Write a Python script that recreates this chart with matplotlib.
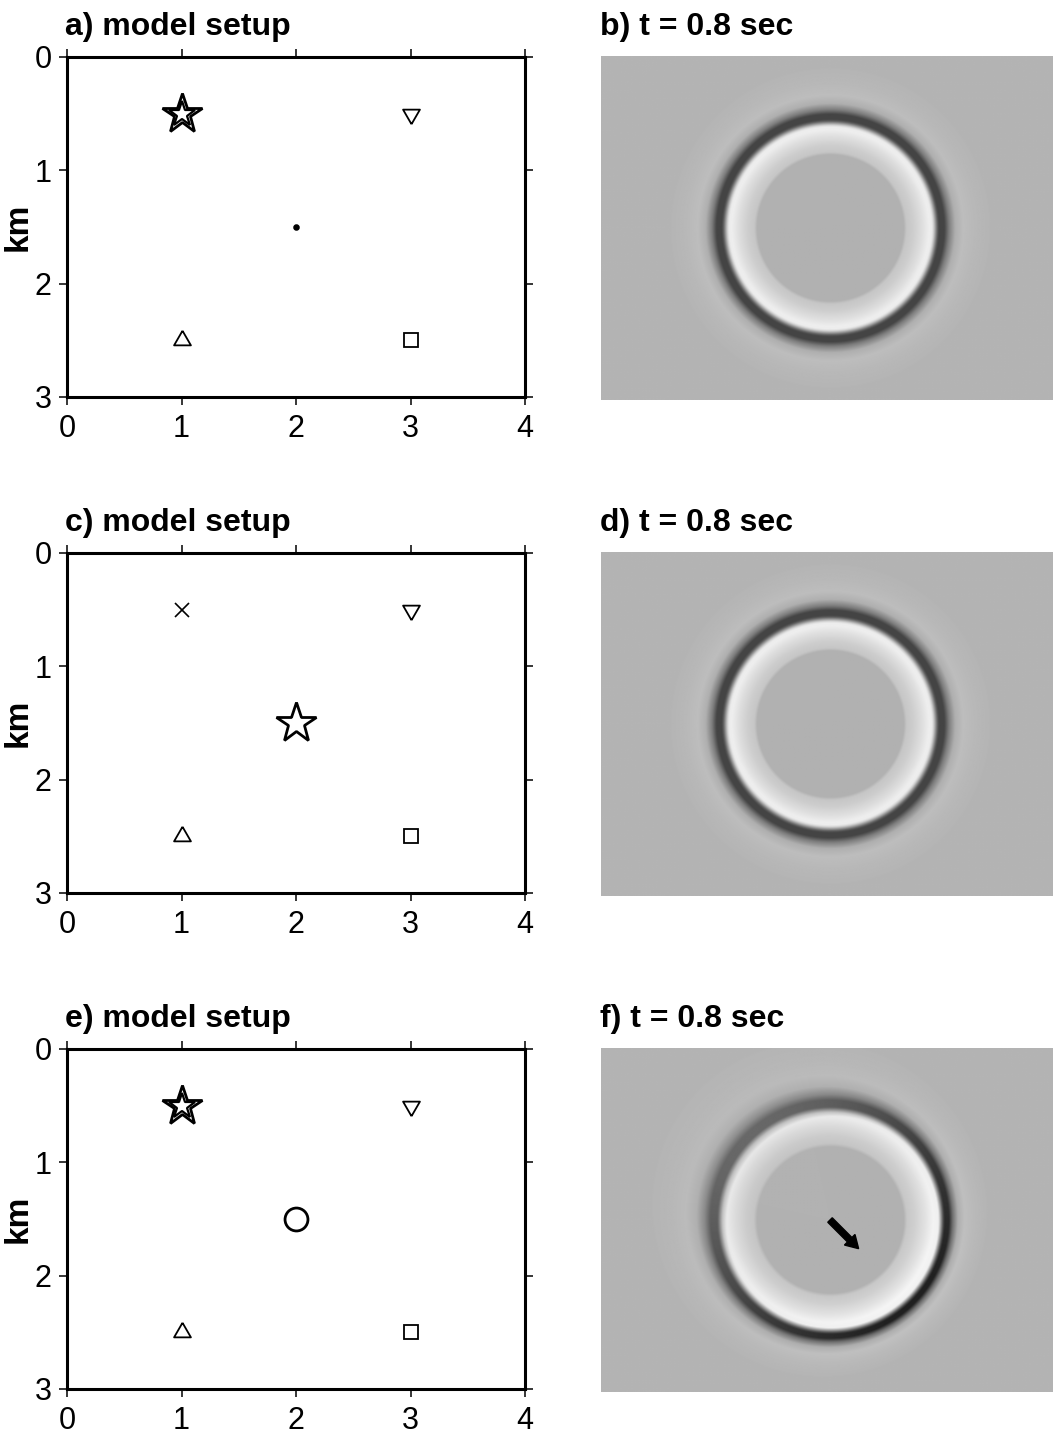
import numpy as np
import matplotlib
matplotlib.use("Agg")
from matplotlib import pyplot as plt

plt.rcParams['font.family'] = ['Liberation Sans', 'DejaVu Sans']

W, H, DPI = 1053, 1434, 100

titles_left = ['a) model setup', 'c) model setup', 'e) model setup']
titles_right = ['b) t = 0.8 sec', 'd) t = 0.8 sec', 'f) t = 0.8 sec']
x_ticks = [0, 1, 2, 3, 4]
y_ticks = [0, 1, 2, 3]

# receivers (same for every setup)
rec_x = [3, 1, 3]
rec_y = [0.5, 2.5, 2.5]
rec_marker = ['tri_dn', 'tri_up', 's']
rec_size = [14, 14, 9.7]

# source star per row, and whether it is drawn as a double star
star_x = [1, 2, 1]
star_y = [0.5, 1.5, 0.5]
star_double = [True, False, True]

# second point per row
pt_x = [2, 1, 2]
pt_y = [1.5, 0.5, 1.5]
pt_marker = ['o', 'x', 'o']
pt_size = [3.5, 10, 16.5]
pt_face = ['k', 'k', 'none']

# snapshot: ring centre and radial grey profile (grey levels 0-255)
ring_x, ring_y = 2.0, 1.5
bg = 180
light_r = [0.0, 0.64, 0.665, 0.72, 0.80, 0.86, 0.90, 0.935]
light_v = [-3, -3, 18, 25, 42, 58, 55, 0]
dark_r = [0.885, 0.92, 0.95, 0.995, 1.035, 1.09, 1.16, 1.26, 1.40]
dark_v = [0, -60, -112, -112, -55, -5, 9, 4, 0]

# polarisation arrow in panel f
arrow_x, arrow_y = 2.0, 1.5
arrow_dx, arrow_dy = 0.25, 0.25

TRI_DN = [(0, -1), (0.866, 0.5), (-0.866, 0.5), (0, -1)]
TRI_UP = [(0, 1), (0.866, -0.5), (-0.866, -0.5), (0, 1)]


def snapshot(aniso=False):
    x = np.linspace(0, 4, 461)
    y = np.linspace(0, 3, 346)
    X, Y = np.meshgrid(x, y)
    dx, dy = X - ring_x, Y - ring_y
    r = np.hypot(dx, dy)
    if not aniso:
        dev = np.interp(r, light_r, light_v) + np.interp(r, dark_r, dark_v)
    else:
        c = (dx * arrow_dx + dy * arrow_dy) / (np.maximum(r, 1e-6) * np.hypot(arrow_dx, arrow_dy))
        r_l = np.where(r < 0.64, r, 0.64 + (r - 0.64) * 0.86)
        r_d = 0.965 + (r - 1.01) * (1 + 0.3 * c)
        dev = (np.interp(r_l, light_r, light_v) * (1 + 0.12 * c)
               + np.interp(r_d, dark_r, dark_v) * (1 + 0.32 * c))
    return np.clip((bg + dev) / 255.0, 0, 1)


fig = plt.figure(figsize=(W / DPI, H / DPI), dpi=DPI)

row_top = [57, 553, 1049]
for i in range(3):
    top = row_top[i]
    # model setup
    ax = fig.add_axes([67 / W, 1 - (top + 340) / H, 458 / W, 340 / H])
    ax.set_xlim(0, 4)
    ax.set_ylim(3, 0)
    ax.set_xticks(x_ticks)
    ax.set_yticks(y_ticks)
    ax.tick_params(axis='both', direction='out', length=6, width=1.1, labelsize=22,
                   top=True, right=True)
    ax.tick_params(axis='x', pad=6)
    ax.tick_params(axis='y', pad=5)
    for s in ax.spines.values():
        s.set_linewidth(2.2)
    ax.set_ylabel('km', fontsize=24, fontweight='bold')
    ax.yaxis.set_label_coords(-0.072, 0.5)

    for xx, yy, m, ms in zip(rec_x, rec_y, rec_marker, rec_size):
        mk = TRI_DN if m == 'tri_dn' else TRI_UP if m == 'tri_up' else m
        ax.plot(xx, yy, marker=mk, ms=ms, mfc='white', mec='k', mew=1.3, ls='none')

    ax.plot(star_x[i], star_y[i], marker='*', ms=30, mfc='white', mec='k', mew=2.0, ls='none')
    if star_double[i]:
        ax.plot(star_x[i], star_y[i], marker='*', ms=19, mfc='none', mec='k', mew=1.6, ls='none')

    ax.plot(pt_x[i], pt_y[i], marker=pt_marker[i], ms=pt_size[i], mfc=pt_face[i],
            mec='k', mew=2.0 if pt_marker[i] == 'o' and pt_size[i] > 5 else 1.2, ls='none')

    fig.text(65 / W, 1 - (top - 22) / H, titles_left[i], fontsize=23, fontweight='bold',
             va='baseline', ha='left')

    # wavefield snapshot
    axr = fig.add_axes([601 / W, 1 - (top - 1 + 344) / H, 458 / W, 344 / H])
    axr.imshow(snapshot(aniso=(i == 2)), cmap='gray', vmin=0, vmax=1, extent=[0, 4, 3, 0],
               aspect='auto', interpolation='bilinear')
    axr.set_axis_off()
    if i == 2:
        axr.arrow(arrow_x, arrow_y, arrow_dx, arrow_dy, width=0.055, head_width=0.13,
                  head_length=0.11, length_includes_head=True, color='k')
    fig.text(600 / W, 1 - (top - 22) / H, titles_right[i], fontsize=23, fontweight='bold',
             va='baseline', ha='left')

fig.savefig('out.png', dpi=DPI)
